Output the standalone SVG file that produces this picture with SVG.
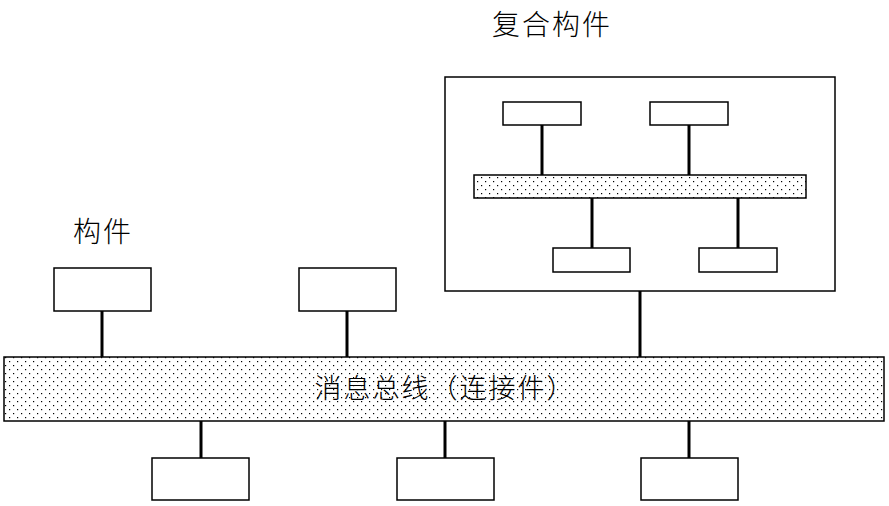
<svg xmlns="http://www.w3.org/2000/svg" width="889" height="506" viewBox="0 0 889 506">
<style>
.b{fill:#fff;stroke:#000;stroke-width:1.5}
.bus{fill:url(#dots);stroke:#000;stroke-width:1.5}
.c line{stroke:#000;stroke-width:3}
text{font-family:"Noto Sans CJK SC",sans-serif;font-weight:300;fill:#000;text-anchor:middle}
</style>
<defs>
<pattern id="dots" width="8" height="8" patternUnits="userSpaceOnUse">
<rect width="8" height="8" fill="#fff"/>
<rect x="1" y="1" width="1.2" height="1.2" fill="#000"/>
<rect x="5" y="5" width="1.2" height="1.2" fill="#000"/>
</pattern>
</defs>
<g id="composite"><rect class="b" x="445" y="77" width="390" height="214"/><text x="552" y="35" font-size="28" letter-spacing="2">复合构件</text></g>
<g id="ibus"><rect class="bus" x="474" y="175" width="332" height="23"/></g>
<g id="i1"><rect class="b" x="503" y="102" width="78" height="23"/></g>
<g id="i2"><rect class="b" x="650" y="102" width="78" height="23"/></g>
<g id="i3"><rect class="b" x="553" y="248" width="77" height="24"/></g>
<g id="i4"><rect class="b" x="699" y="248" width="78" height="24"/></g>
<g id="label"><text x="103" y="242" font-size="28" letter-spacing="2">构件</text></g>
<g id="c1"><rect class="b" x="54" y="268" width="97" height="43"/></g>
<g id="c2"><rect class="b" x="299" y="268" width="97" height="43"/></g>
<g id="bus"><rect class="bus" x="4" y="357" width="880" height="64"/><text x="445" y="398" font-size="27" letter-spacing="2">消息总线（连接件）</text></g>
<g id="b1"><rect class="b" x="152" y="458" width="97" height="42"/></g>
<g id="b2"><rect class="b" x="397" y="458" width="97" height="42"/></g>
<g id="b3"><rect class="b" x="641" y="458" width="97" height="42"/></g>
<g class="c" id="connectors">
<line x1="102" y1="311" x2="102" y2="357"/>
<line x1="347" y1="311" x2="347" y2="357"/>
<line x1="640" y1="291" x2="640" y2="357"/>
<line x1="542" y1="125" x2="542" y2="175"/>
<line x1="689" y1="125" x2="689" y2="175"/>
<line x1="592" y1="198" x2="592" y2="248"/>
<line x1="738" y1="198" x2="738" y2="248"/>
<line x1="201" y1="421" x2="201" y2="458"/>
<line x1="445" y1="421" x2="445" y2="458"/>
<line x1="689" y1="421" x2="689" y2="458"/>
</g>
</svg>
